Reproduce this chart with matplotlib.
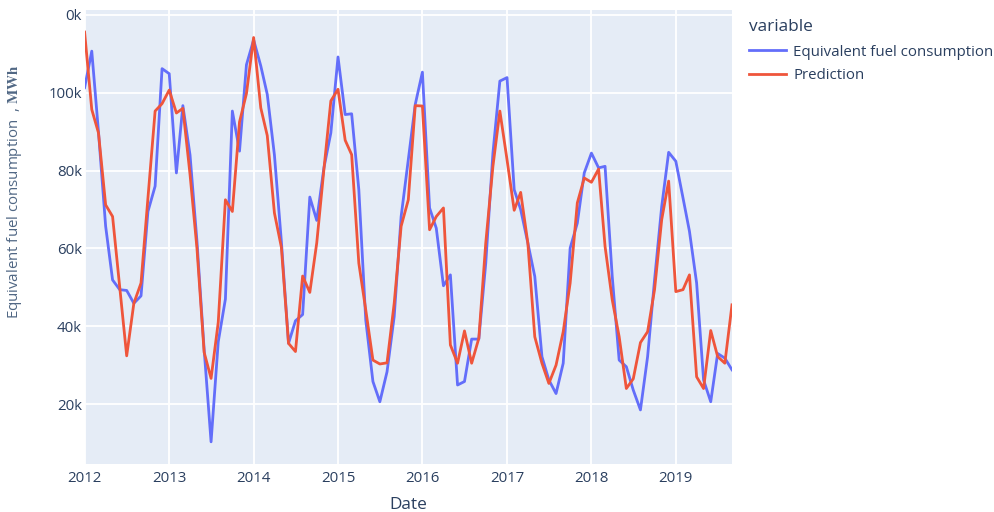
"""Equivalent fuel consumption vs prediction, plotly-style line chart."""

import matplotlib
matplotlib.use("Agg")
import matplotlib.pyplot as plt
import numpy as np
import pandas as pd

# monthly values, thousands of MWh, 2012-01 .. 2019-09
actual_k = [
    101.3, 110.7, 90.0, 65.7, 51.9, 49.4, 49.2, 45.9, 47.8, 69.5, 76.0, 106.2,
    104.9, 79.4, 96.7, 84.0, 61.8, 34.0, 10.3, 36.0, 47.0, 95.3, 85.0, 107.2,
    113.6, 106.9, 99.6, 84.0, 61.8, 35.6, 41.4, 43.0, 73.2, 67.2, 80.7, 89.7,
    109.2, 94.4, 94.6, 75.1, 41.6, 25.8, 20.6, 28.3, 42.5, 68.2, 82.8, 97.0,
    105.3, 70.4, 65.2, 50.4, 53.2, 24.9, 25.8, 36.7, 36.7, 56.2, 84.5, 103.0,
    103.9, 75.1, 70.0, 61.4, 52.8, 32.2, 26.2, 22.7, 30.5, 60.1, 66.5, 79.4,
    84.5, 80.7, 81.1, 52.8, 31.3, 29.6, 23.6, 18.5, 32.2, 51.9, 70.8, 84.7,
    82.4, 73.0, 64.4, 51.1, 26.2, 20.6, 33.0, 31.8, 28.8,
]
prediction_k = [
    115.6, 95.7, 89.7, 71.2, 68.2, 50.0, 32.4, 45.9, 51.1, 73.0, 95.3, 97.2,
    100.7, 94.8, 96.0, 79.0, 60.0, 33.3, 26.6, 41.0, 72.5, 69.5, 92.5, 99.8,
    114.2, 96.1, 89.0, 69.1, 60.3, 35.6, 33.5, 52.9, 48.7, 61.4, 80.3, 97.9,
    100.9, 87.8, 84.1, 56.2, 44.2, 31.3, 30.3, 30.6, 45.9, 65.7, 72.5, 96.7,
    96.6, 64.8, 68.2, 70.4, 35.2, 30.5, 38.8, 30.5, 36.9, 61.4, 81.1, 95.3,
    82.8, 69.8, 74.4, 61.4, 37.3, 30.5, 25.3, 30.0, 38.6, 51.1, 71.7, 78.1,
    77.0, 80.4, 60.5, 46.8, 37.3, 24.0, 26.5, 35.8, 38.6, 49.4, 67.4, 77.3,
    48.9, 49.4, 53.2, 27.0, 24.0, 38.9, 32.2, 30.5, 45.5,
]
series_names = ["Equivalent fuel consumption", "Prediction"]
y_ticks = [20000, 40000, 60000, 80000, 100000, 120000]
y_tick_labels = ["20k", "40k", "60k", "80k", "100k", "0k"]
x_tick_years = list(range(2012, 2020))

dates = pd.date_range("2012-01-01", periods=len(actual_k), freq="MS")
actual = np.array(actual_k) * 1000
prediction = np.array(prediction_k) * 1000

TEXT = "#2a3f5f"
plt.rcParams["font.family"] = ["Open Sans", "DejaVu Sans"]
plt.rcParams["mathtext.fontset"] = "stix"

W, H = 995, 512
fig = plt.figure(figsize=(W / 100, H / 100), dpi=100)
ax = fig.add_axes([84.6 / W, 1 - 464 / H, (732 - 84.6) / W, (464 - 9.5) / H])
ax.set_facecolor("#E5ECF6")
for s in ax.spines.values():
    s.set_visible(False)

ax.plot(dates, actual, color="#636EFA", lw=2.0, label=series_names[0], zorder=3)
ax.plot(dates, prediction, color="#EF553B", lw=2.0, label=series_names[1], zorder=4)

ax.set_xlim(dates[0], dates[-1])
ax.set_ylim(4600, 121400)
ax.set_yticks(y_ticks)
ax.set_yticklabels(y_tick_labels)
ax.set_xticks([pd.Timestamp(f"{y}-01-01") for y in x_tick_years])
ax.set_xticklabels([str(y) for y in x_tick_years])
ax.grid(True, color="white", lw=1.3, zorder=1)
ax.set_axisbelow(True)
ax.tick_params(axis="both", length=0, labelsize=10.8, colors=TEXT)
ax.tick_params(axis="x", pad=5)
ax.tick_params(axis="y", pad=2)

fig.text(15 / W, 1 - 192 / H, r"Equivalent fuel consumption  , $\mathbf{MWh}$",
         rotation=90, ha="center", va="center", fontsize=10.8, color="#506784")
fig.text(408 / W, 1 - 505 / H, "Date", ha="center", va="center",
         fontsize=12.4, color=TEXT)

leg = fig.legend(loc="upper left", bbox_to_anchor=(743 / W, 1 - 13 / H),
                 frameon=False, title="variable", alignment="left",
                 fontsize=10.8, title_fontsize=12.4, handlelength=2.5,
                 handletextpad=0.45, labelspacing=0.55, borderaxespad=0)
leg._legend_box.sep = 7
for t in leg.get_texts():
    t.set_color(TEXT)
leg.get_title().set_color(TEXT)

fig.savefig("out.png", dpi=100, facecolor="white")
